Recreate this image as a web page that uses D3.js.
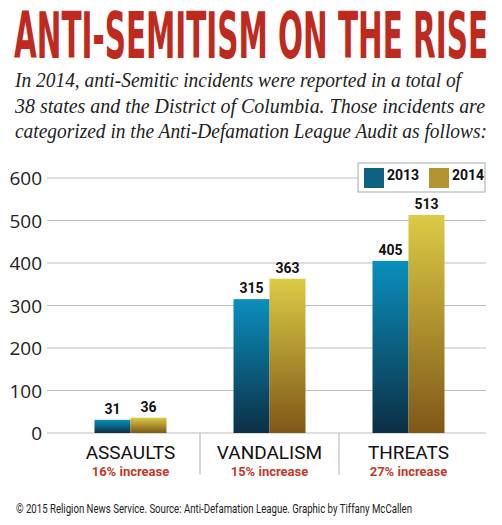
<!DOCTYPE html>
<html><head><meta charset="utf-8">
<script src="https://cdn.jsdelivr.net/npm/d3@7"></script>
<style>body{margin:0;background:#fff}svg{display:block}</style>
</head><body><svg id="c" width="502" height="525"></svg>
<script>
const categories = ["ASSAULTS","VANDALISM","THREATS"];
const increases = ["16% increase","15% increase","27% increase"];
const series = ["2013","2014"];
const values2013 = [31,315,405];
const values2014 = [36,363,513];
const yTicks = [0,100,200,300,400,500,600];
const subtitle = ["In 2014, anti-Semitic incidents were reported in a total of",
 "38 states and the District of Columbia. Those incidents are",
 "categorized in the Anti-Defamation League Audit as follows:"];

const svg = d3.select("#c");
const defs = svg.append("defs");
const grads = [["g13","#0a8fbd","#0c2f45"],["g14","#dccb45","#7f5718"]];
grads.forEach(([id,a,b])=>{
  const g = defs.append("linearGradient").attr("id",id).attr("x1",0).attr("y1",0).attr("x2",0).attr("y2",1);
  g.append("stop").attr("offset","0%").attr("stop-color",a);
  g.append("stop").attr("offset","100%").attr("stop-color",b);
});

svg.append("text").attr("x",14).attr("y",58).attr("textLength",474).attr("lengthAdjust","spacingAndGlyphs")
  .attr("font-family","'Liberation Sans Narrow','DejaVu Sans Condensed',sans-serif").attr("font-weight","bold")
  .attr("font-size",64).attr("fill","#bf2a1e").text("ANTI-SEMITISM ON THE RISE");
const sl = [446,470,472];
subtitle.forEach((t,i)=>svg.append("text").attr("x",15).attr("y",87+i*25.5).attr("textLength",sl[i]).attr("lengthAdjust","spacingAndGlyphs")
  .attr("font-family","'Liberation Serif',serif").attr("font-style","italic").attr("font-size",21).attr("fill","#222").text(t));

const y = d3.scaleLinear().domain([0,600]).range([433,178]);
const x0 = d3.scaleBand().domain(categories).range([61,478]);
const x1 = d3.scaleBand().domain(series).range([0,72]);

svg.append("g").selectAll("line").data(yTicks).join("line")
  .attr("x1",47).attr("x2",486).attr("y1",d=>y(d)).attr("y2",d=>y(d)).attr("stroke","#bdbdbd").attr("stroke-width",1.2);
svg.append("g").selectAll("text").data(yTicks).join("text")
  .attr("x",42).attr("y",d=>y(d)+7).attr("text-anchor","end").attr("font-family","'Open Sans',sans-serif")
  .attr("font-size",19).attr("fill","#222").text(d=>d);
[x0("VANDALISM"),x0("THREATS")].forEach(v=>svg.append("line").attr("x1",v).attr("x2",v).attr("y1",433).attr("y2",475).attr("stroke","#bdbdbd").attr("stroke-width",1.2));

const data = categories.map((c,i)=>({c,vals:[{s:"2013",v:values2013[i]},{s:"2014",v:values2014[i]}]}));
const grp = svg.append("g").selectAll("g").data(data).join("g")
  .attr("transform",d=>`translate(${x0(d.c)+x0.bandwidth()/2-36},0)`);
grp.selectAll("rect").data(d=>d.vals).join("rect")
  .attr("x",d=>x1(d.s)).attr("width",x1.bandwidth()).attr("y",d=>y(d.v)).attr("height",d=>y(0)-y(d.v))
  .attr("fill",d=>d.s==="2013"?"url(#g13)":"url(#g14)");
grp.selectAll("text").data(d=>d.vals).join("text")
  .attr("x",d=>x1(d.s)+x1.bandwidth()/2).attr("y",d=>y(d.v)-6).attr("text-anchor","middle")
  .attr("font-family","'Liberation Sans Narrow','Roboto',sans-serif").attr("font-weight","bold").attr("font-size",14).attr("fill","#111").text(d=>d.v);

categories.forEach((c,i)=>{
  const cx = x0(c)+x0.bandwidth()/2;
  svg.append("text").attr("x",cx).attr("y",459).attr("text-anchor","middle").attr("font-family","'Liberation Sans Narrow','Roboto',sans-serif")
    .attr("font-size",19).attr("fill","#111").text(c);
  svg.append("text").attr("x",cx).attr("y",476).attr("text-anchor","middle").attr("font-family","'Liberation Sans Narrow','Roboto',sans-serif")
    .attr("font-weight","bold").attr("font-size",13).attr("fill","#c0392b").text(increases[i]);
});

svg.append("rect").attr("x",358).attr("y",163).attr("width",127).attr("height",29).attr("fill","#fff").attr("stroke","#aaa");
series.forEach((s,i)=>{
  svg.append("rect").attr("x",364+i*65).attr("y",168).attr("width",20).attr("height",20).attr("fill",i?"#b49432":"#0d6183");
  svg.append("text").attr("x",387+i*65).attr("y",180).attr("font-family","'Liberation Sans Narrow','Roboto',sans-serif")
    .attr("font-weight","bold").attr("font-size",14).attr("fill","#111").text(s);
});

svg.append("text").attr("x",16).attr("y",513).attr("textLength",396).attr("lengthAdjust","spacingAndGlyphs")
  .attr("font-family","'Liberation Sans Narrow','Roboto',sans-serif").attr("font-size",13).attr("fill","#222")
  .text("© 2015 Religion News Service. Source: Anti-Defamation League. Graphic by Tiffany McCallen");
</script></body></html>
